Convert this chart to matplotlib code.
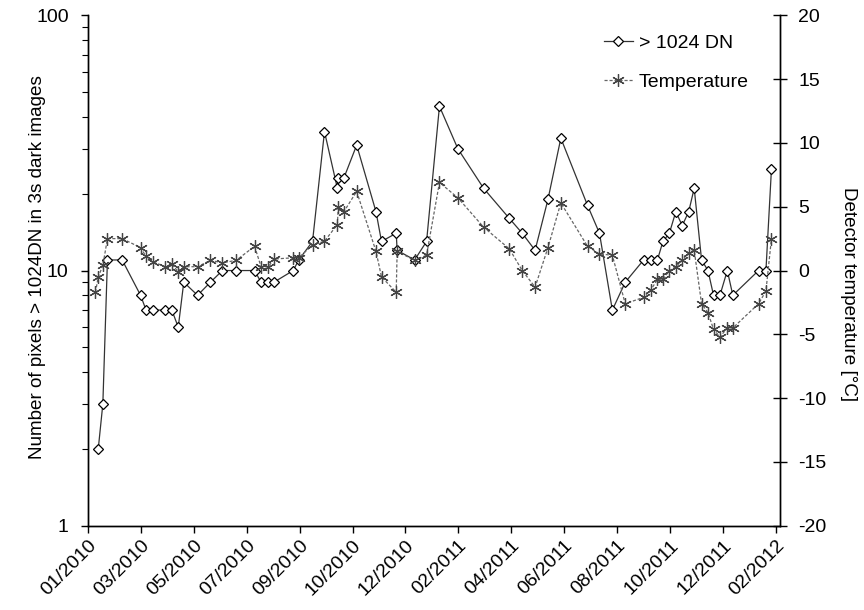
import datetime as dt

import matplotlib
matplotlib.use("Agg")
import matplotlib.dates as mdates
import matplotlib.pyplot as plt
import numpy as np
from matplotlib.ticker import FixedLocator, LogLocator, NullFormatter

# sampling dates of the dark image sets
dates = [
    "2010-01-23", "2010-01-26", "2010-01-31", "2010-02-05", "2010-02-21",
    "2010-03-13", "2010-03-19", "2010-03-26", "2010-04-09", "2010-04-16",
    "2010-04-23", "2010-04-29", "2010-05-14", "2010-05-28", "2010-06-10",
    "2010-06-25", "2010-07-15", "2010-07-22", "2010-07-30", "2010-08-05",
    "2010-08-26", "2010-09-01", "2010-09-16", "2010-09-29", "2010-10-13",
    "2010-10-14", "2010-10-20", "2010-11-03", "2010-11-24", "2010-11-30",
    "2010-12-16", "2010-12-17", "2011-01-05", "2011-01-18", "2011-02-01",
    "2011-02-21", "2011-03-21", "2011-04-18", "2011-05-02", "2011-05-16",
    "2011-05-30", "2011-06-13", "2011-07-12", "2011-07-25", "2011-08-08",
    "2011-08-22", "2011-09-11", "2011-09-19", "2011-09-26", "2011-10-02",
    "2011-10-09", "2011-10-16", "2011-10-23", "2011-10-30", "2011-11-05",
    "2011-11-13", "2011-11-20", "2011-11-26", "2011-12-03", "2011-12-11",
    "2011-12-17", "2012-01-14", "2012-01-22", "2012-01-28",
]

# number of pixels > 1024 DN (nan = no value)
pixels_1024 = [
    np.nan, 2, 3, 11, 11, 8, 7, 7, 7, 7,
    6, 9, 8, 9, 10, 10, 10, 9, 9, 9,
    10, 11, 13, 35, 21, 23, 23, 31, 17, 13,
    14, 12, 11, 13, 44, 30, 21, 16, 14, 12,
    19, 33, 18, 14, 7, 9, 11, 11, 11, 13,
    14, 17, 15, 17, 21, 11, 10, 8, 8, 10,
    8, 10, 10, 25,
]

# detector temperature in deg C
temperature = [
    -1.7, -0.5, 0.4, 2.5, 2.5, 1.8, 1.1, 0.7, 0.3, 0.5,
    -0.1, 0.3, 0.3, 0.8, 0.6, 0.8, 1.9, 0.3, 0.3, 0.9,
    1.0, 1.0, 2.0, 2.3, 3.6, 5.0, 4.6, 6.2, 1.5, -0.5,
    -1.7, 1.5, 0.8, 1.2, 6.9, 5.7, 3.4, 1.7, 0.0, -1.3,
    1.8, 5.3, 1.9, 1.3, 1.2, -2.6, -2.1, -1.5, -0.7, -0.7,
    0.0, 0.3, 0.8, 1.4, 1.6, -2.6, -3.3, -4.6, -5.2, -4.5,
    -4.5, -2.6, -1.6, 2.5,
]

axis_start = dt.datetime(2010, 1, 15)
tick_step_days = 57.5
n_ticks = 14


def main():
    plt.rcParams["font.family"] = ["Liberation Sans", "DejaVu Sans"]
    plt.rcParams["font.size"] = 14
    plt.rcParams["axes.unicode_minus"] = False

    x = [dt.datetime.strptime(d, "%Y-%m-%d") for d in dates]

    fig, ax = plt.subplots(figsize=(8.64, 6.1), dpi=100)
    fig.subplots_adjust(left=0.102, right=0.903, bottom=0.138, top=0.975)
    ax2 = ax.twinx()

    l1, = ax.plot(x, pixels_1024, color="#333333", lw=0.9, marker="D",
                  ms=5.5, mfc="white", mec="black", mew=0.9)
    l2, = ax2.plot(x, temperature, color="#666666", lw=0.9, ls=(0, (2.5, 1.5)),
                   marker=(6, 2, 0), ms=9, mec="#444444", mew=0.9)

    ax.set_yscale("log")
    ax.set_ylim(1, 100)
    ax.yaxis.set_major_locator(FixedLocator([1, 10, 100]))
    ax.set_yticklabels(["1", "10", "100"])
    ax.yaxis.set_minor_locator(LogLocator(base=10, subs=np.arange(2, 10)))
    ax.yaxis.set_minor_formatter(NullFormatter())
    ax.tick_params(axis="y", which="major", direction="out", length=5,
                   width=1, pad=9)
    ax.tick_params(axis="y", which="minor", direction="out", length=4, width=0.8)
    ax.set_ylabel("Number of pixels > 1024DN in 3s dark images", fontsize=13.6)
    ax.yaxis.label.set_va("center")
    ax.yaxis.set_label_coords(-0.073, 0.507)

    ax2.set_ylim(-20, 20)
    ax2.set_yticks(np.arange(-20, 21, 5))
    ax2.tick_params(axis="y", direction="inout", length=10, width=1, pad=8)
    ax2.set_ylabel("Detector temperature [°C]", rotation=270, fontsize=13.6)
    ax2.yaxis.label.set_va("center")
    ax2.yaxis.set_label_coords(1.098, 0.454)

    ticks = [axis_start + dt.timedelta(days=tick_step_days * i) for i in range(n_ticks)]
    ax.set_xlim(ticks[0], ticks[-1] + dt.timedelta(days=5))
    ax.set_xticks(ticks)
    ax.xaxis.set_major_formatter(mdates.DateFormatter("%m/%Y"))
    ax.tick_params(axis="x", direction="out", length=5, width=1, pad=3)
    plt.setp(ax.get_xticklabels(), rotation=45, ha="right",
             rotation_mode="anchor")

    for a in (ax, ax2):
        a.spines["top"].set_visible(False)
        for s in ("left", "right", "bottom"):
            a.spines[s].set_linewidth(1.0)

    ax.legend([l1, l2], ["> 1024 DN", "Temperature"], loc="upper left",
              bbox_to_anchor=(0.72, 0.997), frameon=False, handlelength=1.5,
              handletextpad=0.3, labelspacing=1.1)

    fig.savefig("out.png", dpi=100)
    plt.close(fig)


if __name__ == "__main__":
    main()
